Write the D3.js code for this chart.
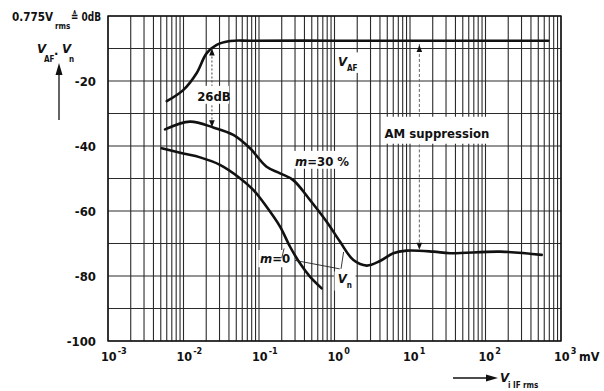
<!DOCTYPE html>
<html><head><meta charset="utf-8">
<script src="https://cdn.jsdelivr.net/npm/d3@7"></script>
<style>
body{margin:0;background:#fff}
text{font-family:"DejaVu Sans Condensed","Liberation Sans Narrow",sans-serif;fill:#111;font-weight:bold}
</style>
</head><body>
<svg id="c" width="604" height="391"></svg>
<script>
// ---- data (V in mV, level in dB) ----
const xDecades = [-3, -2, -1, 0, 1, 2, 3];
const yTickLabels = [-20, -40, -60, -80, -100];
const vafV  = [0.0060, 0.0099, 0.0149, 0.0202, 0.0275, 0.0413, 0.08, 1, 10, 100, 676];
const vafDb = [-26.2, -22.8, -17.6, -11.5, -8.9, -7.7, -7.6, -7.6, -7.6, -7.6, -7.6];
const m30V  = [0.0057, 0.0122, 0.0248, 0.0457, 0.076, 0.126, 0.19, 0.284, 0.473, 0.788, 1.18, 1.78, 2.67, 4.0, 6.0, 9.0, 20.4, 33.9, 156, 555];
const m30Db = [-34.9, -32.5, -34.3, -36.6, -40.7, -46.4, -48.4, -50.5, -56.6, -63.3, -69.4, -75.1, -76.8, -75.4, -73.0, -72.2, -72.5, -73.0, -72.5, -73.5];
const m0V   = [0.00514, 0.0099, 0.0166, 0.0304, 0.056, 0.084, 0.126, 0.19, 0.258, 0.349, 0.473, 0.676];
const m0Db  = [-40.7, -42.3, -43.5, -45.8, -49.9, -53.5, -58.7, -64.8, -71.0, -76.1, -80.2, -83.8];

const svg = d3.select("#c");
const x = d3.scaleLog().domain([1e-3, 1e3]).range([108, 561]);
const y = d3.scaleLinear().domain([-100, 0]).range([341, 16]);

// grid
const g = svg.append("g").attr("stroke", "#2a2a2a").attr("stroke-width", 1.1);
x.ticks().forEach(v => g.append("line").attr("x1", x(v)).attr("x2", x(v)).attr("y1", y(0)).attr("y2", y(-100)));
d3.range(-100, 1, 10).forEach(d => g.append("line").attr("x1", x(1e-3)).attr("x2", x(1e3)).attr("y1", y(d)).attr("y2", y(d)));
svg.append("rect").attr("x", x(1e-3)).attr("y", y(0)).attr("width", x(1e3) - x(1e-3)).attr("height", y(-100) - y(0))
  .attr("fill", "none").attr("stroke", "#111").attr("stroke-width", 1.4);

// white patches behind labels (in data coordinates)
const patches = [
  [0.0147, 0.040, -21.5, -27.0],   // 26dB
  [4.4, 112, -31.0, -39.3],        // AM suppression
  [0.29, 1.32, -41.5, -47.0],      // m=30 %
  [1.05, 2.3, -11.2, -17.5],       // V_AF
  [0.098, 0.27, -72.0, -77.3],     // m=0
  [1.0, 1.9, -78.6, -84.5]         // V_n
];
patches.forEach(p => svg.append("rect").attr("x", x(p[0])).attr("width", x(p[1]) - x(p[0]))
  .attr("y", y(p[2])).attr("height", y(p[3]) - y(p[2])).attr("fill", "#fff"));

// curves
const line = d3.line().x(d => x(d[0])).y(d => y(d[1])).curve(d3.curveCatmullRom.alpha(0.5));
[[vafV, vafDb], [m30V, m30Db], [m0V, m0Db]].forEach(([vs, ds]) => {
  svg.append("path").attr("d", line(vs.map((v, i) => [v, ds[i]])))
    .attr("fill", "none").attr("stroke", "#111").attr("stroke-width", 2.6).attr("stroke-linejoin", "round").attr("stroke-linecap", "round");
});

// arrow heads
function head(px, py, dir, w = 2.8, h = 7) {
  svg.append("path").attr("d", `M${px},${py} L${px - w},${py - dir * h} L${px + w},${py - dir * h} Z`).attr("fill", "#111");
}
// 26 dB annotation
const aX = x(0.0238);
svg.append("line").attr("x1", aX).attr("x2", aX).attr("y1", y(-10)).attr("y2", y(-21.5)).attr("stroke", "#444").attr("stroke-width", 1).attr("stroke-dasharray", "2,2");
svg.append("line").attr("x1", aX).attr("x2", aX).attr("y1", y(-27.5)).attr("y2", y(-34)).attr("stroke", "#444").attr("stroke-width", 1).attr("stroke-dasharray", "2,2");
head(aX, y(-10), -1);
head(aX, y(-34.2), 1);
svg.append("text").attr("x", aX + 2).attr("y", y(-26)).attr("text-anchor", "middle").attr("font-size", 13).text("26dB");

// AM suppression annotation
const bX = x(13.3);
svg.append("line").attr("x1", bX).attr("x2", bX).attr("y1", y(-8.6)).attr("y2", y(-31)).attr("stroke", "#666").attr("stroke-width", 1).attr("stroke-dasharray", "3,2");
svg.append("line").attr("x1", bX).attr("x2", bX).attr("y1", y(-39.5)).attr("y2", y(-71.5)).attr("stroke", "#666").attr("stroke-width", 1).attr("stroke-dasharray", "3,2");
head(bX, y(-8.9), -1);
head(bX, y(-71.9), 1);
svg.append("text").attr("x", x(4.6)).attr("y", y(-37.4)).attr("font-size", 13).text("AM suppression");

// curve labels
function lbl(v, db, parts, size = 13) {
  const t = svg.append("text").attr("x", x(v)).attr("y", y(db)).attr("font-size", size);
  parts.forEach(p => {
    const s = t.append("tspan").text(p.t);
    if (p.i) s.attr("font-style", "italic");
    if (p.sub) s.attr("font-size", size * 0.62).attr("dy", p.sub);
    if (p.dy) s.attr("dy", p.dy);
  });
  return t;
}
lbl(1.11, -15.4, [{t: "V", i: 1}, {t: "AF", sub: 5}]);
lbl(0.30, -46.0, [{t: "m", i: 1}, {t: "=30 %"}]);
lbl(0.103, -76.0, [{t: "m", i: 1}, {t: "=0"}]);
lbl(1.1, -82.3, [{t: "V", i: 1}, {t: "n", sub: 5}]);
// leader lines
const leaders = [[[0.20, -74.5], [0.215, -71.5]], [[1.17, -77.8], [0.30, -75.2]], [[1.22, -77.8], [1.32, -72.6]]];
leaders.forEach(l => svg.append("line").attr("x1", x(l[0][0])).attr("y1", y(l[0][1])).attr("x2", x(l[1][0])).attr("y2", y(l[1][1]))
  .attr("stroke", "#222").attr("stroke-width", 0.9));

// y axis labels
yTickLabels.forEach(d => svg.append("text").attr("x", 96).attr("y", y(d) + 5).attr("text-anchor", "end").attr("font-size", 13).text(d));

// x axis labels
xDecades.forEach(e => {
  const t = svg.append("text").attr("x", x(Math.pow(10, e)) - 7).attr("y", 361).attr("font-size", 12.5);
  t.append("tspan").text("10");
  t.append("tspan").attr("dy", -7).attr("font-size", 9).attr("dx", 1).text(e < 0 ? "-" + (-e) : e);
});
svg.append("text").attr("x", 579).attr("y", 361).attr("font-size", 12.5).text("mV");

// top-left title
svg.append("text").attr("x", 12).attr("y", 21).attr("font-size", 13).attr("textLength", 41).attr("lengthAdjust", "spacingAndGlyphs").text("0.775V");
svg.append("text").attr("x", 55).attr("y", 29).attr("font-size", 8).text("rms");
svg.append("text").attr("x", 71).attr("y", 21).attr("font-size", 13).attr("textLength", 30).attr("lengthAdjust", "spacingAndGlyphs").text("≙ 0dB");

// y axis title
svg.append("text").attr("x", 37).attr("y", 53).attr("font-size", 13).attr("font-style", "italic").text("V");
svg.append("text").attr("x", 44).attr("y", 62).attr("font-size", 8).text("AF");
svg.append("text").attr("x", 54).attr("y", 58).attr("font-size", 13).text("·");
svg.append("text").attr("x", 62).attr("y", 53).attr("font-size", 13).attr("font-style", "italic").text("V");
svg.append("text").attr("x", 69).attr("y", 62).attr("font-size", 8).text("n");
svg.append("line").attr("x1", 59).attr("x2", 59).attr("y1", 120).attr("y2", 72).attr("stroke", "#111").attr("stroke-width", 1.3);
svg.append("path").attr("d", "M59,63 L55.5,75 L62.5,75 Z").attr("fill", "#111");

// x axis title
svg.append("line").attr("x1", 453).attr("x2", 490).attr("y1", 378).attr("y2", 378).attr("stroke", "#111").attr("stroke-width", 1.3);
svg.append("path").attr("d", "M498,378 L486,374.5 L486,381.5 Z").attr("fill", "#111");
svg.append("text").attr("x", 500).attr("y", 382).attr("font-size", 13).attr("font-style", "italic").text("V");
svg.append("text").attr("x", 508).attr("y", 388).attr("font-size", 8).text("i IF rms");
</script>
</body></html>
